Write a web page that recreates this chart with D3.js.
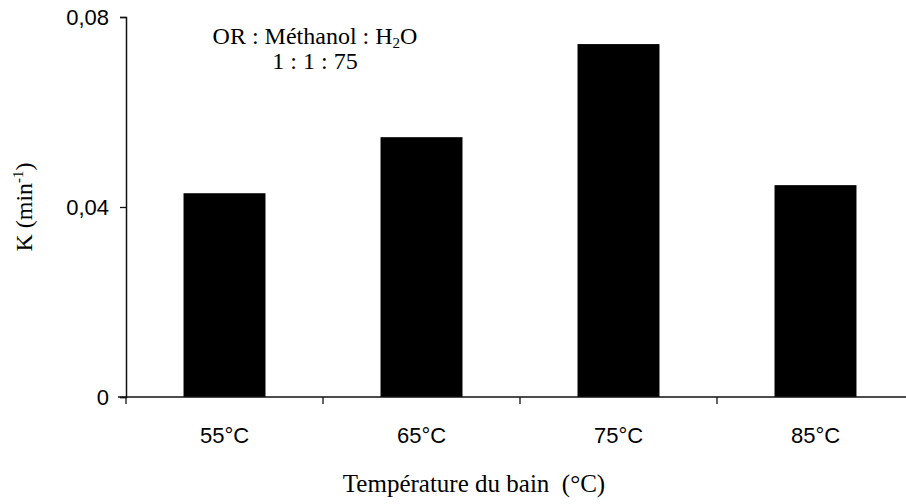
<!DOCTYPE html>
<html>
<head>
<meta charset="utf-8">
<script src="https://cdn.jsdelivr.net/npm/d3@7"></script>
<style>
body { margin: 0; background: #fff; }
svg { display: block; }
</style>
</head>
<body>
<div id="chart"></div>
<script>
// data
var categories = ["55°C", "65°C", "75°C", "85°C"];
var kValues = [0.0429, 0.0547, 0.0743, 0.0446];
var yTicks = [0, 0.04, 0.08];

var width = 906, height = 504;
var plotLeft = 126, plotTop = 17, plotBottom = 397;

var svg = d3.select("#chart").append("svg")
     .attr("width", width)
     .attr("height", height);

var data = categories.map(function (c, i) { return {cat: c, k: kValues[i]}; });

var x = d3.scaleBand()
     .domain(categories)
     .range([plotLeft, plotLeft + 4 * 197])
     .paddingInner(0.584)
     .paddingOuter(0.292);
var y = d3.scaleLinear().domain([0, 0.08]).range([plotBottom, plotTop]);

// bars
svg.selectAll("rect.bar")
     .data(data)
     .enter().append("rect")
     .attr("class", "bar")
     .attr("x", function (d) { return x(d.cat); })
     .attr("y", function (d) { return y(d.k); })
     .attr("width", x.bandwidth())
     .attr("height", function (d) { return y(0) - y(d.k); })
     .attr("fill", "#000");

// y axis
var yAxis = svg.append("g")
     .attr("transform", "translate(" + plotLeft + ",0)")
     .call(d3.axisLeft(y).tickValues(yTicks).tickSize(6).tickPadding(11)
          .tickFormat(function (d) { return d === 0 ? "0" : d3.format(".2f")(d).replace(".", ","); }));
yAxis.select(".domain").attr("stroke", "#111").attr("stroke-width", 1.5);
yAxis.selectAll(".tick line").attr("stroke", "#111").attr("stroke-width", 1.3);
yAxis.selectAll("text")
     .style("font-family", "'Liberation Sans', Arial, sans-serif")
     .style("font-size", "22px")
     .attr("fill", "#000");

// x axis: baseline with ticks between categories
var step = x.step();
var bounds = d3.range(0, categories.length + 1).map(function (i) { return plotLeft + i * step; });
svg.append("line")
     .attr("x1", plotLeft - 8).attr("x2", bounds[bounds.length - 1])
     .attr("y1", y(0)).attr("y2", y(0))
     .attr("stroke", "#111").attr("stroke-width", 1.5);
svg.selectAll("line.xtick")
     .data(bounds)
     .enter().append("line")
     .attr("class", "xtick")
     .attr("x1", function (d) { return d; }).attr("x2", function (d) { return d; })
     .attr("y1", y(0)).attr("y2", y(0) + 7)
     .attr("stroke", "#111").attr("stroke-width", 1.3);
svg.selectAll("text.xlabel")
     .data(categories)
     .enter().append("text")
     .attr("class", "xlabel")
     .attr("x", function (d) { return x(d) + x.bandwidth() / 2; })
     .attr("y", 443)
     .attr("text-anchor", "middle")
     .style("font-family", "'Liberation Sans', Arial, sans-serif")
     .style("font-size", "22px")
     .text(function (d) { return d; });

// axis titles
svg.append("text")
     .attr("x", 474)
     .attr("y", 492)
     .attr("text-anchor", "middle")
     .style("font-family", "'Liberation Serif', 'Times New Roman', serif")
     .style("font-size", "25px")
     .style("white-space", "pre")
     .text("Température du bain  (°C)");

var yt = svg.append("text")
     .attr("transform", "translate(32,207) rotate(-90)")
     .attr("text-anchor", "middle")
     .style("font-family", "'Liberation Serif', 'Times New Roman', serif")
     .style("font-size", "24px");
yt.append("tspan").text("K (min");
yt.append("tspan").attr("dy", -9).style("font-size", "15px").text("-1");
yt.append("tspan").attr("dy", 9).text(")");

// annotation
var note = svg.append("text")
     .attr("text-anchor", "middle")
     .style("font-family", "'Liberation Serif', 'Times New Roman', serif")
     .style("font-size", "24px");
var l1 = note.append("tspan").attr("x", 315).attr("y", 44);
l1.append("tspan").text("OR : Méthanol : H");
l1.append("tspan").attr("dy", 4).style("font-size", "15px").text("2");
l1.append("tspan").attr("dy", -4).text("O");
note.append("tspan").attr("x", 315).attr("y", 69).text("1 : 1 : 75");
</script>
</body>
</html>
